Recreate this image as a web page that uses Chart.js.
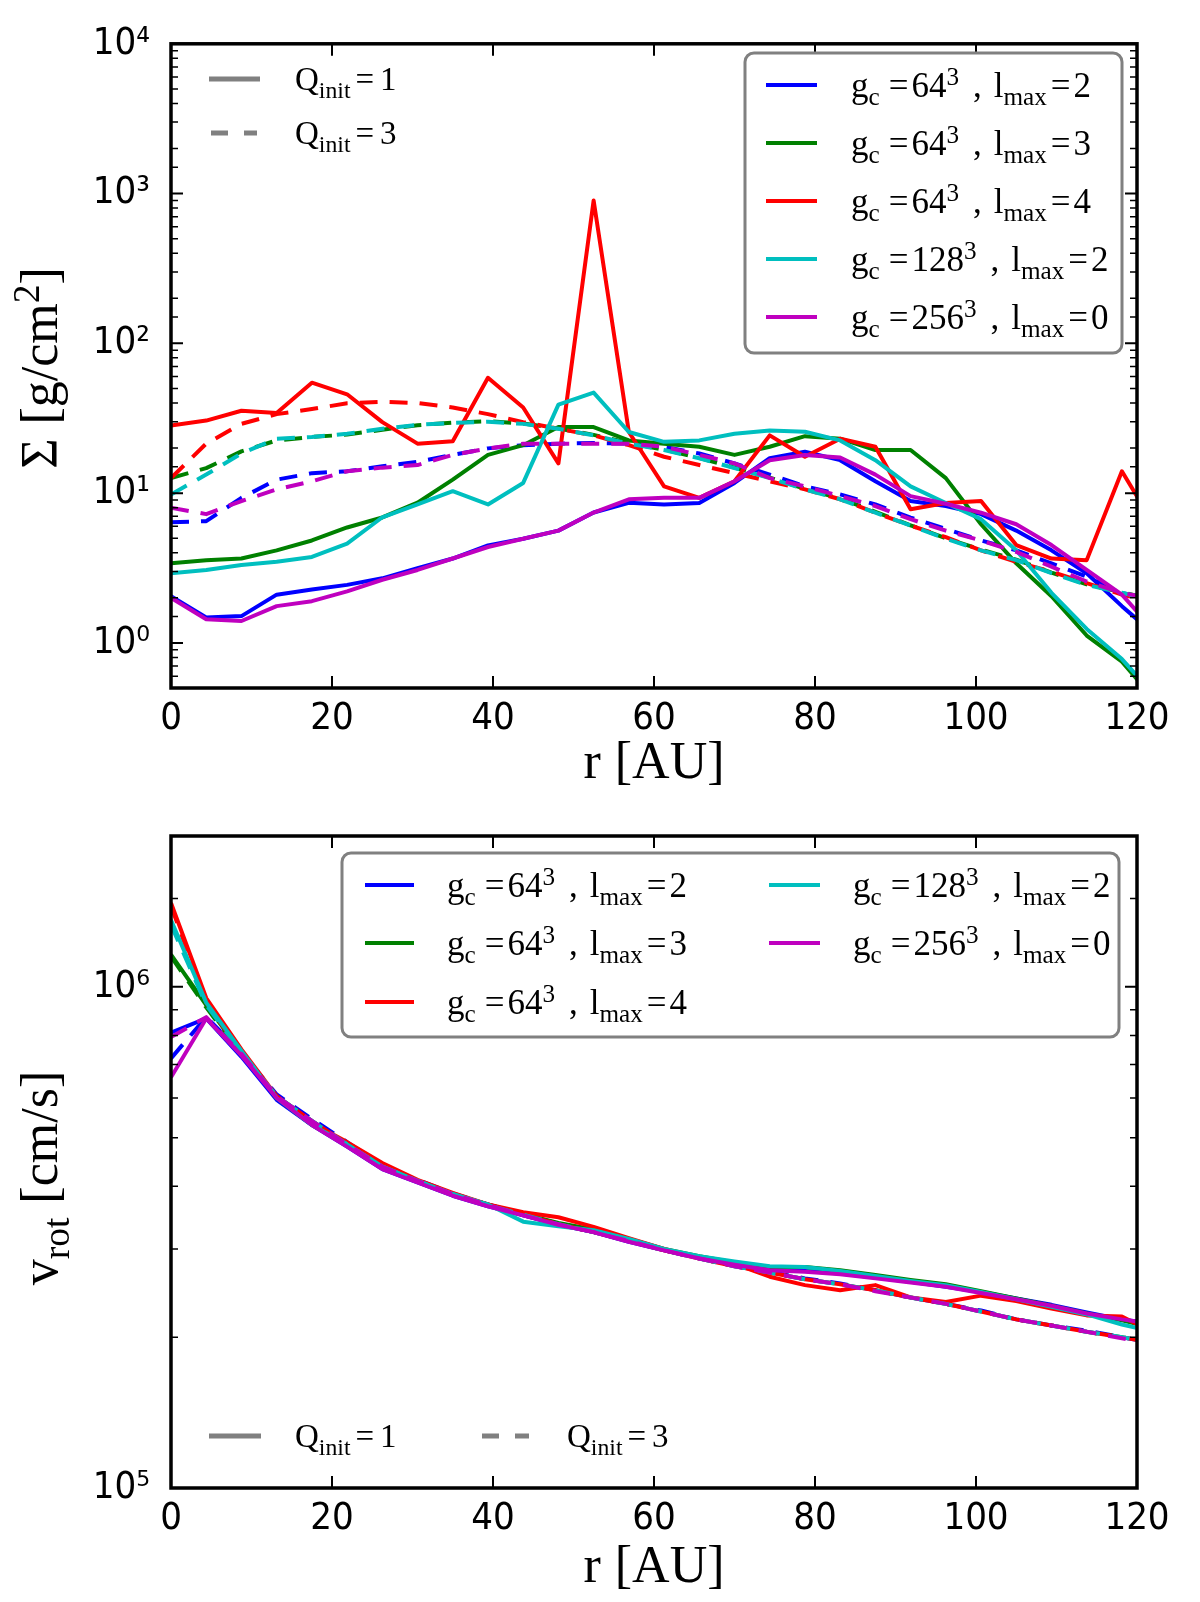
<!DOCTYPE html>
<html>
<head>
<meta charset="utf-8">
<script src="https://cdn.jsdelivr.net/npm/chart.js@4.4.1/dist/chart.umd.min.js"></script>
<style>
  html, body { margin: 0; padding: 0; background: #fff; }
  #wrap { position: relative; width: 1200px; height: 1602px; }
  canvas { position: absolute; left: 0; }
</style>
</head>
<body>
<div id="wrap">
  <canvas id="sigmaChart" width="1200" height="790" style="top:0px"></canvas>
  <canvas id="vrotChart" width="1200" height="812" style="top:790px"></canvas>
</div>
<script>
// radius of each sample [AU]
const radiusAU = [0, 4.375, 8.75, 13.125, 17.5, 21.875, 26.25, 30.625, 35, 39.375, 43.75, 48.125, 52.5, 56.875,
  61.25, 65.625, 70, 74.375, 78.75, 83.125, 87.5, 91.875, 96.25, 100.625, 105, 109.375, 113.75, 118.125, 122.5];

// surface density [g/cm^2], Q_init = 1 (solid)
const sigmaBlueQ1  = [2.05, 1.48, 1.51, 2.1, 2.27, 2.44, 2.7, 3.15, 3.66, 4.48, 4.96, 5.62, 7.42, 8.63, 8.4, 8.6, 11.7, 17.1, 18.9, 16.6, 12.0, 8.86, 8.2, 7.24, 5.62, 4.15, 2.92, 1.76, 1.1];
const sigmaGreenQ1 = [3.4, 3.57, 3.66, 4.15, 4.83, 5.9, 6.88, 8.63, 12.3, 18.0, 20.9, 27.6, 27.6, 22.5, 21.4, 20.4, 18.0, 20.4, 24.0, 23.1, 19.4, 19.4, 12.6, 6.2, 3.4, 2.05, 1.12, 0.75, 0.4];
const sigmaRedQ1   = [28.3, 30.5, 35.5, 34.3, 54.6, 45.7, 29.8, 21.4, 22.2, 58.9, 37.3, 15.8, 900, 25.6, 11.1, 9.3, 12.0, 24.3, 17.5, 23.1, 20.4, 7.8, 8.6, 8.86, 4.5, 3.66, 3.57, 14.0, 5.7];
const sigmaCyanQ1  = [2.92, 3.07, 3.31, 3.48, 3.75, 4.6, 6.9, 8.4, 10.3, 8.4, 11.7, 39.0, 46.9, 25.6, 22.0, 22.5, 24.9, 26.2, 25.7, 22.5, 16.6, 11.1, 8.6, 6.7, 4.15, 2.16, 1.24, 0.78, 0.43];
const sigmaMagQ1   = [2.0, 1.44, 1.4, 1.76, 1.9, 2.21, 2.64, 3.07, 3.66, 4.37, 4.96, 5.62, 7.42, 9.1, 9.3, 9.3, 12.0, 16.6, 18.0, 17.3, 13.3, 9.55, 8.5, 7.4, 6.2, 4.5, 3.07, 2.1, 1.15];
// surface density, Q_init = 3 (dashed)
const sigmaBlueQ3  = [6.38, 6.5, 9.3, 12.3, 13.6, 14.0, 15.1, 16.2, 18.0, 19.9, 20.9, 21.4, 21.6, 21.4, 20.4, 18.4, 15.8, 13.3, 11.1, 9.8, 8.4, 6.87, 5.77, 4.83, 4.15, 3.4, 2.77, 2.16, 1.9];
const sigmaGreenQ3 = [12.6, 14.7, 19.0, 22.5, 23.7, 24.6, 26.5, 28.4, 29.6, 30.2, 29.2, 27.0, 24.5, 21.6, 19.5, 17.2, 14.8, 12.7, 10.7, 9.2, 7.5, 6.1, 5.0, 4.2, 3.6, 2.95, 2.46, 2.18, 1.92];
const sigmaRedQ3   = [12.6, 21.4, 29.0, 33.7, 36.4, 39.8, 40.7, 40.0, 37.3, 33.7, 29.8, 26.9, 24.3, 20.9, 17.5, 15.4, 13.6, 12.0, 10.6, 9.1, 7.4, 6.07, 5.08, 4.15, 3.48, 2.99, 2.51, 2.1, 1.85];
const sigmaCyanQ3  = [9.8, 13.3, 18.4, 23.1, 23.7, 24.9, 26.9, 28.6, 29.4, 30.0, 29.0, 26.9, 24.3, 21.4, 19.4, 17.1, 14.7, 12.6, 10.6, 9.1, 7.4, 6.07, 4.96, 4.15, 3.57, 2.92, 2.44, 2.16, 1.9];
const sigmaMagQ3   = [8.0, 7.24, 8.86, 10.6, 12.0, 14.0, 14.8, 15.4, 18.0, 19.9, 21.4, 21.4, 21.4, 21.4, 20.4, 18.0, 15.8, 12.6, 11.1, 9.55, 8.2, 6.7, 5.62, 4.83, 4.05, 3.23, 2.57, 2.16, 1.95];

// rotation velocity [cm/s], Q_init = 1 (solid)
const vBlueQ1  = [8.1e5, 8.65e5, 7.25e5, 5.95e5, 5.3e5, 4.8e5, 4.33e5, 4.07e5, 3.83e5, 3.65e5, 3.5e5, 3.35e5, 3.24e5, 3.1e5, 2.98e5, 2.88e5, 2.8e5, 2.73e5, 2.71e5, 2.68e5, 2.63e5, 2.58e5, 2.52e5, 2.46e5, 2.39e5, 2.32e5, 2.24e5, 2.17e5, 2.12e5];
const vGreenQ1 = [1.16e6, 9.2e5, 7.4e5, 6.0e5, 5.3e5, 4.85e5, 4.38e5, 4.1e5, 3.86e5, 3.68e5, 3.52e5, 3.38e5, 3.28e5, 3.14e5, 3.0e5, 2.9e5, 2.82e5, 2.76e5, 2.76e5, 2.72e5, 2.66e5, 2.6e5, 2.55e5, 2.47e5, 2.39e5, 2.31e5, 2.23e5, 2.16e5, 2.08e5];
const vRedQ1   = [1.47e6, 9.5e5, 7.5e5, 6.05e5, 5.35e5, 4.9e5, 4.45e5, 4.12e5, 3.88e5, 3.68e5, 3.55e5, 3.47e5, 3.32e5, 3.15e5, 3.0e5, 2.88e5, 2.8e5, 2.64e5, 2.54e5, 2.48e5, 2.54e5, 2.4e5, 2.35e5, 2.42e5, 2.36e5, 2.28e5, 2.21e5, 2.2e5, 2.02e5];
const vCyanQ1  = [1.36e6, 9.3e5, 7.45e5, 6.0e5, 5.3e5, 4.85e5, 4.38e5, 4.1e5, 3.86e5, 3.68e5, 3.4e5, 3.33e5, 3.27e5, 3.14e5, 3.0e5, 2.9e5, 2.83e5, 2.77e5, 2.76e5, 2.71e5, 2.65e5, 2.59e5, 2.54e5, 2.46e5, 2.38e5, 2.3e5, 2.22e5, 2.12e5, 2.04e5];
const vMagQ1   = [6.6e5, 8.65e5, 7.3e5, 6.0e5, 5.3e5, 4.8e5, 4.33e5, 4.07e5, 3.83e5, 3.65e5, 3.5e5, 3.35e5, 3.24e5, 3.1e5, 2.98e5, 2.87e5, 2.79e5, 2.72e5, 2.7e5, 2.67e5, 2.62e5, 2.57e5, 2.52e5, 2.45e5, 2.38e5, 2.31e5, 2.23e5, 2.17e5, 2.12e5];
// rotation velocity, Q_init = 3 (dashed)
const vBlueQ3  = [7.2e5, 8.7e5, 7.4e5, 6.1e5, 5.45e5, 4.9e5, 4.4e5, 4.12e5, 3.87e5, 3.68e5, 3.52e5, 3.37e5, 3.25e5, 3.12e5, 2.99e5, 2.88e5, 2.78e5, 2.7e5, 2.62e5, 2.56e5, 2.48e5, 2.4e5, 2.33e5, 2.26e5, 2.17e5, 2.11e5, 2.06e5, 2.0e5, 1.94e5];
const vGreenQ3 = [1.15e6, 9.1e5, 7.35e5, 6.05e5, 5.4e5, 4.85e5, 4.38e5, 4.1e5, 3.86e5, 3.67e5, 3.51e5, 3.36e5, 3.24e5, 3.11e5, 2.98e5, 2.87e5, 2.77e5, 2.69e5, 2.61e5, 2.55e5, 2.48e5, 2.4e5, 2.33e5, 2.25e5, 2.17e5, 2.11e5, 2.05e5, 2.0e5, 1.94e5];
const vRedQ3   = [1.45e6, 9.3e5, 7.4e5, 6.05e5, 5.4e5, 4.85e5, 4.38e5, 4.1e5, 3.86e5, 3.67e5, 3.51e5, 3.36e5, 3.24e5, 3.11e5, 2.98e5, 2.87e5, 2.77e5, 2.69e5, 2.61e5, 2.55e5, 2.48e5, 2.4e5, 2.33e5, 2.25e5, 2.17e5, 2.11e5, 2.05e5, 2.0e5, 1.94e5];
const vCyanQ3  = [1.33e6, 9.2e5, 7.4e5, 6.05e5, 5.4e5, 4.85e5, 4.38e5, 4.1e5, 3.86e5, 3.67e5, 3.51e5, 3.36e5, 3.24e5, 3.11e5, 2.98e5, 2.87e5, 2.77e5, 2.69e5, 2.61e5, 2.55e5, 2.48e5, 2.4e5, 2.33e5, 2.25e5, 2.17e5, 2.11e5, 2.05e5, 2.0e5, 1.94e5];
const vMagQ3   = [7.94e5, 8.7e5, 7.35e5, 6.05e5, 5.4e5, 4.85e5, 4.38e5, 4.1e5, 3.86e5, 3.67e5, 3.5e5, 3.36e5, 3.24e5, 3.11e5, 2.98e5, 2.87e5, 2.77e5, 2.69e5, 2.61e5, 2.55e5, 2.47e5, 2.4e5, 2.33e5, 2.25e5, 2.17e5, 2.11e5, 2.05e5, 1.99e5, 1.93e5];

// run labels (legend)
const runColors = ['#0000ff', '#008000', '#ff0000', '#00bfbf', '#bf00bf'];
const runGrid = ['64', '64', '64', '128', '256'];
const runLmax = ['2', '3', '4', '2', '0'];
const qLabels = ['1', '3'];
const xTicks = [0, 20, 40, 60, 80, 100, 120];

const SERIF = 'Liberation Serif';
const SANS = '"DejaVu Sans Condensed", "DejaVu Sans"';
const SUPS = '⁰¹²³⁴⁵⁶⁷⁸⁹';

function isDecade(v) {
  const l = Math.log10(v);
  return Math.abs(l - Math.round(l)) < 1e-6;
}

function toPoints(vals) {
  return radiusAU.map(function(r, i) { return { x: r, y: vals[i] }; });
}

function buildSets(solid, dashed) {
  var sets = [];
  for (var k = 0; k < runColors.length; k++) {
    sets.push({ data: toPoints(solid[k]), borderColor: runColors[k], borderWidth: 4, order: -(2 * k) });
    sets.push({ data: toPoints(dashed[k]), borderColor: runColors[k], borderWidth: 4,
      borderDash: [18, 12], order: -(2 * k + 1) });
  }
  return sets;
}

// rich text: parts are numbers (gap px) or [text, 'sub'|'sup'|undefined]
function richText(ctx, parts, x, y, fs, draw) {
  var cx = x;
  parts.forEach(function(p) {
    if (typeof p === 'number') { cx += p; return; }
    var kind = p[1];
    var s = kind ? fs * 0.72 : fs;
    var dy = kind === 'sub' ? fs * 0.24 : (kind === 'sup' ? -fs * 0.34 : 0);
    ctx.font = s + 'px "' + SERIF + '"';
    if (draw) ctx.fillText(p[0], cx, y + dy);
    cx += ctx.measureText(p[0]).width;
  });
  return cx - x;
}

function runLabel(k) {
  return [['g'], ['c', 'sub'], 9, ['='], 3, [runGrid[k]], ['3', 'sup'], 14, [','], 12, ['l'], ['max', 'sub'], 4, ['='], 3, [runLmax[k]]];
}

function qLabel(k) {
  return [['Q'], ['init', 'sub'], 5, ['='], 6, [qLabels[k]]];
}

function drawFrameAndTicks(chart) {
  const ctx = chart.ctx, a = chart.chartArea;
  const xs = chart.scales.x, ys = chart.scales.y;
  ctx.save();
  ctx.strokeStyle = '#000';
  xs.ticks.forEach(function(t) {
    const px = xs.getPixelForValue(t.value);
    if (px < a.left + 2 || px > a.right - 2) return;
    ctx.lineWidth = 2;
    ctx.beginPath();
    ctx.moveTo(px, a.bottom); ctx.lineTo(px, a.bottom - 12);
    ctx.moveTo(px, a.top); ctx.lineTo(px, a.top + 12);
    ctx.stroke();
  });
  ys.ticks.forEach(function(t) {
    const py = ys.getPixelForValue(t.value);
    if (py < a.top + 2 || py > a.bottom - 2) return;
    const major = isDecade(t.value);
    const len = major ? 12 : 7;
    ctx.lineWidth = major ? 2 : 1.5;
    ctx.beginPath();
    ctx.moveTo(a.left, py); ctx.lineTo(a.left + len, py);
    ctx.moveTo(a.right, py); ctx.lineTo(a.right - len, py);
    ctx.stroke();
  });
  ctx.lineWidth = 3.5;
  ctx.strokeRect(a.left, a.top, a.right - a.left, a.bottom - a.top);
  ctx.restore();
}

function roundBox(ctx, x0, y0, x1, y1, r) {
  ctx.beginPath();
  ctx.moveTo(x0 + r, y0);
  ctx.lineTo(x1 - r, y0); ctx.arcTo(x1, y0, x1, y0 + r, r);
  ctx.lineTo(x1, y1 - r); ctx.arcTo(x1, y1, x1 - r, y1, r);
  ctx.lineTo(x0 + r, y1); ctx.arcTo(x0, y1, x0, y1 - r, r);
  ctx.lineTo(x0, y0 + r); ctx.arcTo(x0, y0, x0 + r, y0, r);
  ctx.closePath();
}

function drawRunLegend(ctx, box, entries) {
  ctx.save();
  roundBox(ctx, box[0], box[1], box[2], box[3], 9);
  ctx.fillStyle = '#fff';
  ctx.fill();
  ctx.strokeStyle = '#808080';
  ctx.lineWidth = 3;
  ctx.stroke();
  entries.forEach(function(e) {
    ctx.strokeStyle = runColors[e.k];
    ctx.lineWidth = 4;
    ctx.beginPath();
    ctx.moveTo(e.x0, e.y); ctx.lineTo(e.x1, e.y);
    ctx.stroke();
    ctx.fillStyle = '#000';
    ctx.textBaseline = 'alphabetic';
    ctx.textAlign = 'left';
    richText(ctx, runLabel(e.k), e.tx, e.y + 12, 35, true);
  });
  ctx.restore();
}

function drawQLegend(ctx, entries) {
  ctx.save();
  entries.forEach(function(e) {
    ctx.strokeStyle = '#808080';
    ctx.lineWidth = 5;
    ctx.setLineDash(e.k === 0 ? [] : [17, 16]);
    ctx.beginPath();
    ctx.moveTo(e.x0, e.y); ctx.lineTo(e.x1, e.y);
    ctx.stroke();
    ctx.setLineDash([]);
    ctx.fillStyle = '#000';
    ctx.textBaseline = 'alphabetic';
    ctx.textAlign = 'left';
    richText(ctx, qLabel(e.k), e.tx, e.y + 11, 33, true);
  });
  ctx.restore();
}

function drawTitles(chart, cfg) {
  const ctx = chart.ctx, a = chart.chartArea;
  ctx.save();
  ctx.fillStyle = '#000';
  ctx.textBaseline = 'alphabetic';
  ctx.textAlign = 'left';
  // x title
  const xParts = [['r'], 14, ['[AU]']];
  const wx = richText(ctx, xParts, 0, 0, 52, false);
  richText(ctx, xParts, (a.left + a.right) / 2 - wx / 2, a.bottom + cfg.xTitleDy, 52, true);
  // y title, rotated
  const wy = richText(ctx, cfg.yParts, 0, 0, 52, false);
  ctx.translate(57, cfg.yTitleCy);
  ctx.rotate(-Math.PI / 2);
  richText(ctx, cfg.yParts, -wy / 2, 0, 52, true);
  ctx.restore();
}

function makeDecor(cfg) {
  return {
    id: 'decor',
    afterDatasetsDraw: function(chart) {
      drawFrameAndTicks(chart);
      drawRunLegend(chart.ctx, cfg.box, cfg.runEntries);
      drawQLegend(chart.ctx, cfg.qEntries);
      drawTitles(chart, cfg);
    }
  };
}

function makeChart(id, cfg) {
  return new Chart(document.getElementById(id), {
    type: 'line',
    data: { datasets: buildSets(cfg.solid, cfg.dashed) },
    options: {
      responsive: false,
      animation: false,
      devicePixelRatio: 1,
      layout: { padding: { left: 0, top: cfg.top, right: 63, bottom: 0 } },
      elements: {
        point: { radius: 0 },
        line: { tension: 0, borderCapStyle: 'butt', borderJoinStyle: 'round' }
      },
      plugins: { legend: { display: false }, tooltip: { enabled: false } },
      scales: {
        x: {
          type: 'linear', min: 0, max: 120,
          afterBuildTicks: function(s) { s.ticks = xTicks.map(function(v) { return { value: v }; }); },
          ticks: { font: { family: SANS, size: 38 }, color: '#000', padding: 8, maxRotation: 0, autoSkip: false },
          grid: { display: false, drawTicks: false },
          border: { display: false },
          afterFit: function(s) { s.height = cfg.xAxisH; }
        },
        y: {
          type: 'logarithmic', min: cfg.ymin, max: cfg.ymax,
          ticks: {
            autoSkip: false,
            font: { family: SANS, size: 38 }, color: '#000', padding: 21,
            callback: function(v) {
              if (!isDecade(v)) return '';
              const e = Math.round(Math.log10(v));
              return '10' + String(e).split('').map(function(d) { return SUPS[+d]; }).join('');
            }
          },
          grid: { display: false, drawTicks: false },
          border: { display: false },
          afterFit: function(s) { s.width = 171; }
        }
      }
    },
    plugins: [makeDecor(cfg)]
  });
}

// top panel: surface density
makeChart('sigmaChart', {
  solid: [sigmaBlueQ1, sigmaGreenQ1, sigmaRedQ1, sigmaCyanQ1, sigmaMagQ1],
  dashed: [sigmaBlueQ3, sigmaGreenQ3, sigmaRedQ3, sigmaCyanQ3, sigmaMagQ3],
  top: 36, xAxisH: 102, ymin: 0.5, ymax: 1e4,
  xTitleDy: 90, yTitleCy: 368,
  yParts: [['Σ'], 14, ['[g/cm'], ['2', 'sup'], [']']],
  box: [745, 53, 1122, 353],
  runEntries: [0, 1, 2, 3, 4].map(function(k) { return { k: k, x0: 766, x1: 817, tx: 851, y: 85 + 58 * k }; }),
  qEntries: [
    { k: 0, x0: 209, x1: 260, tx: 295, y: 79 },
    { k: 1, x0: 211, x1: 257, tx: 295, y: 133 }
  ]
});

// bottom panel: rotation velocity
makeChart('vrotChart', {
  solid: [vBlueQ1, vGreenQ1, vRedQ1, vCyanQ1, vMagQ1],
  dashed: [vBlueQ3, vGreenQ3, vRedQ3, vCyanQ3, vMagQ3],
  top: 46, xAxisH: 114, ymin: 1e5, ymax: 2e6,
  xTitleDy: 94, yTitleCy: 388,
  yParts: [['v'], ['rot', 'sub'], 14, ['[cm/s]']],
  box: [342, 63, 1119, 247],
  runEntries: [
    { k: 0, x0: 365, x1: 414, tx: 447, y: 95 },
    { k: 1, x0: 365, x1: 414, tx: 447, y: 153 },
    { k: 2, x0: 365, x1: 414, tx: 447, y: 212 },
    { k: 3, x0: 769, x1: 820, tx: 853, y: 95 },
    { k: 4, x0: 769, x1: 820, tx: 853, y: 153 }
  ],
  qEntries: [
    { k: 0, x0: 209, x1: 261, tx: 295, y: 646 },
    { k: 1, x0: 482, x1: 529, tx: 567, y: 646 }
  ]
});
</script>
</body>
</html>
